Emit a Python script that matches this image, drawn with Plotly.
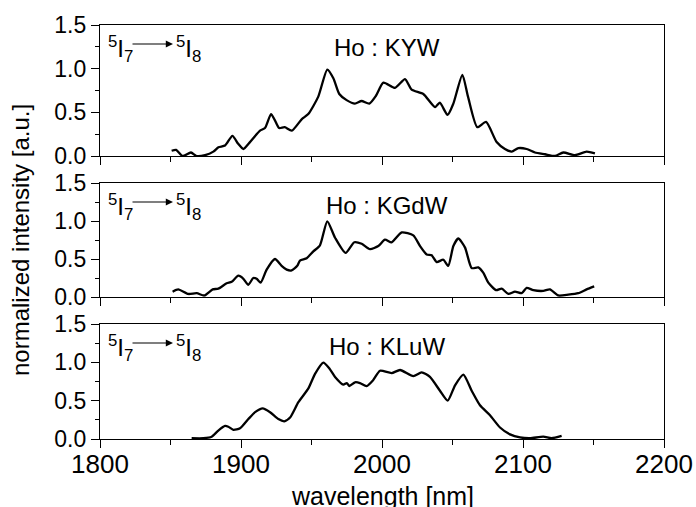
import plotly.graph_objects as go

# ---------------- data ----------------
kyw_wl = [1850.8, 1854, 1858.6, 1864.5, 1868.5, 1874.5, 1880.4, 1884, 1888.7, 1893.9, 1898, 1901.7,
          1905.9, 1913.5, 1917, 1921.3, 1924, 1927, 1931, 1936, 1943, 1947.7, 1954.8, 1961.2,
          1965.5, 1969.7, 1974.9, 1980.8, 1985.5, 1991, 1995.7, 2001, 2009.2, 2016.3, 2021,
          2029.3, 2037.6, 2041, 2046.5, 2050.6, 2057, 2061, 2067.6, 2073.8, 2081.3, 2087.2,
          2092, 2096.7, 2102.6, 2108.5, 2115.6, 2122.7, 2128.6, 2136.9, 2145.1, 2151]
kyw_int = [0.06, 0.07, 0.0, 0.04, 0.0, 0.01, 0.05, 0.10, 0.12, 0.23, 0.14, 0.08,
           0.15, 0.29, 0.32, 0.48, 0.41, 0.32, 0.33, 0.29, 0.42, 0.48, 0.68, 0.99,
           0.89, 0.71, 0.64, 0.60, 0.63, 0.60, 0.69, 0.84, 0.78, 0.88, 0.76,
           0.71, 0.56, 0.61, 0.47, 0.60, 0.93, 0.68, 0.33, 0.39, 0.16, 0.08,
           0.05, 0.09, 0.08, 0.04, 0.02, 0.0, 0.04, 0.01, 0.05, 0.03]

kgdw_wl = [1851.5, 1855.5, 1862.6, 1868.6, 1874, 1879.9, 1883.9, 1889.8, 1893.4, 1898.1, 1901.7,
           1905.2, 1908.7, 1911.1, 1914, 1918.2, 1924.1, 1928.8, 1932.4, 1935.9, 1939.9, 1941.8,
           1946.6, 1951.3, 1956, 1961.2, 1966.7, 1974.2, 1980.4, 1985.6, 1991.5, 1997.4, 2002.1,
           2006.8, 2014, 2022.2, 2027, 2031.7, 2035.2, 2038.8, 2043.5, 2047, 2050.6, 2054.1,
           2058.9, 2063.6, 2068.3, 2071.8, 2075.4, 2080.9, 2084.9, 2089.6, 2094.3, 2099.1,
           2102.6, 2107.3, 2114.4, 2119.1, 2125, 2132.1, 2139.2, 2145.1, 2150.5]
kgdw_int = [0.07, 0.10, 0.04, 0.05, 0.02, 0.10, 0.11, 0.18, 0.20, 0.28, 0.24,
            0.16, 0.25, 0.24, 0.19, 0.36, 0.50, 0.41, 0.36, 0.35, 0.41, 0.48,
            0.51, 0.60, 0.68, 0.996, 0.78, 0.58, 0.72, 0.70, 0.63, 0.67, 0.755,
            0.72, 0.85, 0.81, 0.67, 0.56, 0.55, 0.46, 0.49, 0.41, 0.67, 0.77,
            0.65, 0.38, 0.39, 0.32, 0.19, 0.09, 0.11, 0.04, 0.07, 0.05,
            0.12, 0.09, 0.08, 0.10, 0.02, 0.03, 0.05, 0.10, 0.14]

kluw_wl = [1865, 1873.3, 1879.2, 1883.9, 1888.7, 1891, 1894.6, 1899.3, 1905.2, 1910, 1915.4,
           1920.6, 1926.5, 1930.7, 1934.8, 1940.7, 1947.8, 1952.5, 1958.4, 1962.7, 1966.7,
           1972.6, 1975, 1976.8, 1980.9, 1984.4, 1989.1, 1993.8, 1998.6, 2006.8, 2012.8,
           2022.2, 2028.1, 2034, 2041.1, 2046.6, 2051.8, 2057.7, 2063.6, 2069.5, 2076.6,
           2083.7, 2090.8, 2097.9, 2105, 2114.4, 2120.3, 2127.4]
kluw_int = [0.01, 0.01, 0.03, 0.11, 0.17, 0.16, 0.12, 0.14, 0.26, 0.35, 0.40,
            0.35, 0.26, 0.23, 0.28, 0.48, 0.66, 0.85, 0.997, 0.92, 0.81,
            0.71, 0.73, 0.69, 0.74, 0.73, 0.69, 0.77, 0.89, 0.86, 0.90,
            0.82, 0.87, 0.81, 0.63, 0.50, 0.70, 0.84, 0.63, 0.44, 0.31,
            0.15, 0.06, 0.02, 0.01, 0.03, 0.01, 0.04]

sample_names = ["Ho : KYW", "Ho : KGdW", "Ho : KLuW"]
x_ticks = [1800, 1900, 2000, 2100, 2200]
y_ticks = [0.0, 0.5, 1.0, 1.5]
y_tick_text = ["0.0", "0.5", "1.0", "1.5"]

# ---------------- layout helpers ----------------
W, H = 696, 507
L, R = 100, 664
FONT = "Liberation Sans, Arial, sans-serif"
panels_px = [(25, 156), (183, 297), (324, 439)]  # (top, bottom) in pixels


def px_x(p):
    return (p - L) / (R - L)


def px_y(p):
    return 1 - p / H


fig = go.Figure()
series = [(kyw_wl, kyw_int), (kgdw_wl, kgdw_int), (kluw_wl, kluw_int)]
annotations = []

for i, ((wl, it), name, (top, bot)) in enumerate(zip(series, sample_names, panels_px)):
    n = "" if i == 0 else str(i + 1)
    fig.add_trace(go.Scatter(x=wl, y=it, mode="lines", xaxis="x" + n, yaxis="y" + n,
                             line=dict(color="black", width=2.3, shape="spline", smoothing=0.6),
                             showlegend=False, hoverinfo="skip"))
    fig.layout["xaxis" + n] = dict(
        domain=[0, 1], range=[1800, 2200], anchor="y" + n, automargin=False,
        tickvals=x_ticks, showticklabels=(i == 2), ticklabelstandoff=-6,
        ticks="outside", ticklen=8, tickwidth=1.3, tickcolor="black",
        minor=dict(dtick=50, tick0=1800, ticks="outside", ticklen=5, tickwidth=1.3, tickcolor="black"),
        showline=True, linecolor="black", linewidth=1.3, mirror=True,
        showgrid=False, zeroline=False,
        tickfont=dict(family=FONT, size=26, color="black"),
    )
    fig.layout["yaxis" + n] = dict(
        domain=[px_y(bot), px_y(top)], range=[0, 1.5], anchor="x" + n, automargin=False,
        tickvals=y_ticks, ticktext=y_tick_text,
        ticks="outside", ticklen=8, tickwidth=1.3, tickcolor="black",
        minor=dict(dtick=0.25, tick0=0, ticks="outside", ticklen=4, tickwidth=1.3, tickcolor="black"),
        showline=True, linecolor="black", linewidth=1.3, mirror=True,
        showgrid=False, zeroline=False,
        tickfont=dict(family=FONT, size=23, color="black"),
    )
    # sample name
    annotations.append(dict(xref="paper", yref="paper", x=px_x(387), y=px_y(top + 22),
                            text=name, showarrow=False, xanchor="center", yanchor="middle",
                            font=dict(family=FONT, size=24, color="black")))
    # transition label
    ty = top + 24
    annotations.append(dict(xref="paper", yref="paper", x=px_x(106), y=px_y(ty),
                            text="<sup>5</sup>I<sub>7</sub>", showarrow=False,
                            xanchor="left", yanchor="middle",
                            font=dict(family=FONT, size=24, color="black")))
    annotations.append(dict(xref="paper", yref="paper", x=px_x(174), y=px_y(ty),
                            text="<sup>5</sup>I<sub>8</sub>", showarrow=False,
                            xanchor="left", yanchor="middle",
                            font=dict(family=FONT, size=24, color="black")))
    annotations.append(dict(xref="paper", yref="paper", x=px_x(173), y=px_y(top + 19),
                            ax=-42, ay=0, text="", showarrow=True, arrowhead=2,
                            arrowsize=1.2, arrowwidth=1.2, arrowcolor="black", standoff=0))

# axis titles
annotations.append(dict(xref="paper", yref="paper", x=px_x(382), y=px_y(496),
                        text="wavelength [nm]", showarrow=False,
                        xanchor="center", yanchor="middle",
                        font=dict(family=FONT, size=25, color="black")))
annotations.append(dict(xref="paper", yref="paper", x=px_x(20), y=px_y(240),
                        text="normalized intensity [a.u.]", showarrow=False, textangle=-90,
                        xanchor="center", yanchor="middle",
                        font=dict(family=FONT, size=24, color="black")))

fig.update_layout(
    width=W, height=H,
    margin=dict(l=L, r=W - R, t=0, b=0),
    paper_bgcolor="white", plot_bgcolor="white",
    annotations=annotations,
    font=dict(family=FONT, color="black"),
)

fig.write_html("out.html")
